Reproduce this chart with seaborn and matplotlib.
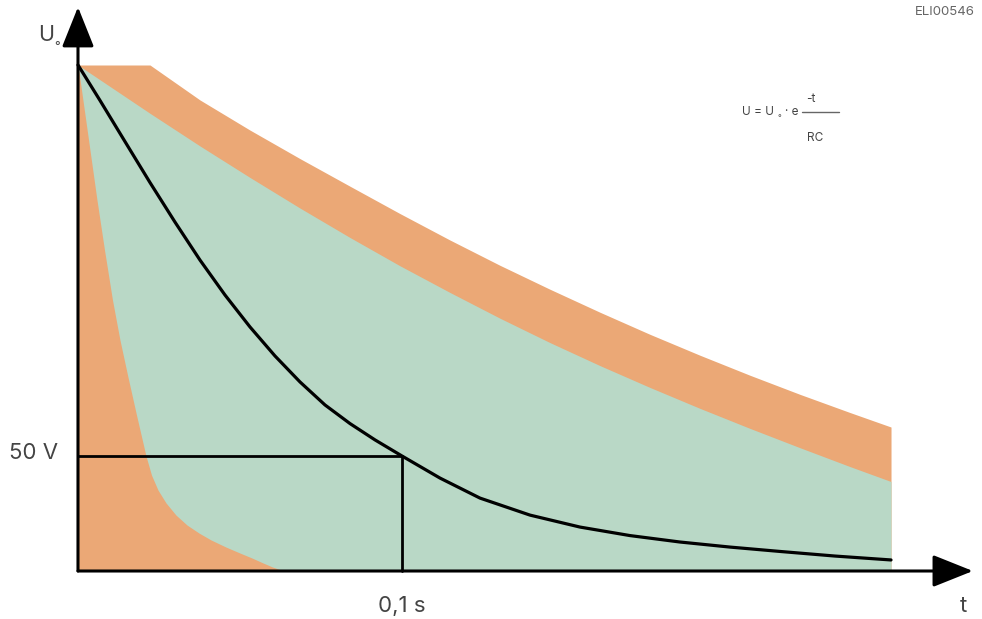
import numpy as np
import pandas as pd
import matplotlib
matplotlib.use("Agg")
import matplotlib.pyplot as plt
from matplotlib.lines import Line2D
import seaborn as sns

# discharge curve U(t) (t in s, U in V)
t_curve = [0, 0.00679, 0.01451, 0.02222, 0.02994, 0.03765, 0.04537, 0.05309, 0.0608, 0.06852,
           0.07623, 0.08395, 0.09167, 0.1, 0.11173, 0.12407, 0.13951, 0.15494, 0.17037, 0.1858,
           0.20123, 0.21667, 0.23364, 0.25093]
u_curve = [220, 204.6, 186.7, 168.9, 151.7, 135.2, 120.0, 106.1, 93.5, 82.2,
           72.2, 64.1, 57.0, 50, 40.4, 31.7, 24.3, 19.1, 15.4, 12.6,
           10.4, 8.5, 6.5, 4.8]

# upper edge of the orange tolerance band
t_orange = [0, 0.02222, 0.03765, 0.05309, 0.06852, 0.08395, 0.09938, 0.11481, 0.13025, 0.14568,
            0.16111, 0.17654, 0.19198, 0.20741, 0.22284, 0.23827, 0.25093]
u_orange = [220, 220, 204.8, 191.7, 179.3, 167.3, 155.4, 143.9, 132.9, 122.5,
            112.5, 102.9, 93.8, 85.1, 76.8, 68.9, 62.6]

# upper edge of the green band
t_green = [0, 0.02222, 0.03765, 0.05309, 0.06852, 0.08395, 0.09938, 0.11481, 0.13025, 0.14568,
           0.16111, 0.17654, 0.19198, 0.20741, 0.22284, 0.23827, 0.25093]
u_green = [220, 199.0, 184.8, 171.1, 157.8, 145.0, 132.7, 121.1, 109.9, 99.3,
           89.3, 79.8, 70.7, 62.0, 53.6, 45.4, 38.9]

# lower-left orange region edge
t_left = [0, 0.0037, 0.00586, 0.00818, 0.01065, 0.01296, 0.01543, 0.01806, 0.02099, 0.02269,
          0.02469, 0.02716, 0.03025, 0.03364, 0.03735, 0.04105, 0.04568, 0.05, 0.0537, 0.0571,
          0.06003, 0.06358]
u_left = [220, 183.0, 161.3, 139.6, 117.8, 100.4, 84.3, 67.8, 50.0, 41.7,
          35.2, 29.6, 24.3, 20.0, 16.5, 13.5, 10.4, 7.8, 5.65, 3.5,
          1.74, 0]

t_mark = 0.1
u_mark = 50

orange = "#EBA876"
green = "#B9D8C6"

sns.set_style("white")
plt.rcParams['font.family'] = ['Inter', 'DejaVu Sans']

W, H = 982, 619
fig = plt.figure(figsize=(W / 100, H / 100), dpi=100)
ax = fig.add_axes([0, 0, 1, 1])
ax.set_xlim(-0.02407, 0.27901)
ax.set_ylim(-20.87, 248.26)
ax.axis("off")

ax.fill_between(t_orange, 0, u_orange, color=orange, lw=0)
ax.fill_between(t_green, 0, u_green, color=green, lw=0)
ax.fill_between(t_left, 0, u_left, color=orange, lw=0)

df = pd.DataFrame({"t": t_curve, "U": u_curve})
sns.lineplot(data=df, x="t", y="U", ax=ax, color="black", lw=2.3)

# 50 V / 0.1 s guide lines
ax.plot([0, t_mark], [u_mark, u_mark], color="black", lw=2)
ax.plot([t_mark, t_mark], [u_mark, 0], color="black", lw=2)

# axes with arrows
arrow = dict(arrowstyle="-|>,head_length=2.5,head_width=1.0", color="black",
             lw=2.2, shrinkA=0, shrinkB=0)
ax.annotate("", xy=(0, 245.2), xytext=(0, 0), arrowprops=arrow)
ax.annotate("", xy=(0.2762, 0), xytext=(0, 0), arrowprops=arrow)


def px(x, y):
    return x / W, 1 - y / H


txt = "#444444"
fig.text(*px(38, 35), "U", fontsize=15.5, color=txt, va="center", ha="left")
fig.text(*px(57, 47), "°", fontsize=9, color=txt, va="center", ha="center")
fig.text(*px(9, 453), "50 V", fontsize=16, color=txt, va="center", ha="left")
fig.text(*px(402, 606), "0,1 s", fontsize=16, color=txt, va="center", ha="center")
fig.text(*px(963, 606), "t", fontsize=16, color=txt, va="center", ha="center")
fig.text(*px(975, 12), "ELI00546", fontsize=9.5, color="#666666", va="center", ha="right")

# formula
fs = 8.5
fig.text(*px(742, 112), "U = U", fontsize=fs, color=txt, va="center", ha="left")
fig.text(*px(779, 118), "°", fontsize=6, color=txt, va="center", ha="center")
fig.text(*px(785, 112), "· e", fontsize=fs, color=txt, va="center", ha="left")
fig.add_artist(Line2D([802 / W, 839 / W], [1 - 112 / H, 1 - 112 / H], color="#666666", lw=1))
fig.text(*px(811, 99), "-t", fontsize=fs, color=txt, va="center", ha="center")
fig.text(*px(815, 138), "RC", fontsize=fs, color=txt, va="center", ha="center")

fig.savefig("out.png", dpi=100)
